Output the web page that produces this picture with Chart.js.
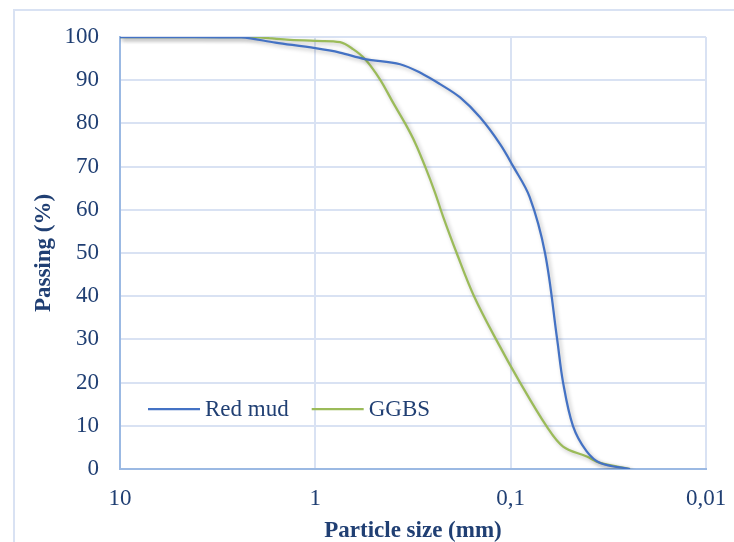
<!DOCTYPE html>
<html>
<head>
<meta charset="utf-8">
<script src="https://cdn.jsdelivr.net/npm/chart.js@4.4.1/dist/chart.umd.min.js"></script>
<style>
  html, body { margin: 0; padding: 0; background: #ffffff; }
  #wrap { width: 734px; height: 542px; position: relative; }
</style>
</head>
<body>
<div id="wrap"><canvas id="c" width="734" height="542"></canvas></div>
<script>
// ---- data ----
const seriesNames = ['Red mud', 'GGBS'];

const redMudSize    = [10, 5, 2.4, 1.6, 1, 0.75, 0.557, 0.368, 0.281, 0.23, 0.1815, 0.1435, 0.1133, 0.0972, 0.08, 0.0667, 0.0578, 0.0539, 0.048, 0.041, 0.0348, 0.0245];
const redMudPassing = [100, 100, 99.9, 98.7, 97.4, 96.4, 94.9, 93.7, 91.4, 89.1, 86.0, 81.4, 75.2, 70.1, 63.0, 50.0, 30.0, 20.0, 10.0, 4.2, 1.4, 0];

const ggbsSize    = [10, 5, 2.16, 1.4, 1, 0.747, 0.641, 0.557, 0.467, 0.4, 0.347, 0.309, 0.274, 0.244, 0.222, 0.189, 0.154, 0.1188, 0.0895, 0.0653, 0.0539, 0.0408, 0.0348, 0.0245];
const ggbsPassing = [100, 100, 100, 99.4, 99.1, 98.8, 97.2, 94.9, 90.2, 84.8, 80.0, 75.6, 70.0, 64.0, 58.5, 50.0, 40.0, 30.0, 20.0, 9.8, 5.2, 2.9, 1.4, 0];

const xTickValues = [10, 1, 0.1, 0.01];
const xTickLabels = ['10', '1', '0,1', '0,01'];
const yTickValues = [0, 10, 20, 30, 40, 50, 60, 70, 80, 90, 100];

const xTitle = 'Particle size (mm)';
const yTitle = 'Passing (%)';

// ---- styles ----
const TEXT = '#203f73';
const FONT = 'Liberation Serif, "Times New Roman", serif';
const COLORS = ['#4472C4', '#9BBB59'];

const toPts = (xs, ys) => xs.map((x, i) => ({ x: x, y: ys[i] }));

const outerBorder = {
  id: 'outerBorder',
  beforeDraw(chart) {
    const ctx = chart.ctx;
    ctx.save();
    ctx.strokeStyle = '#D9E2F3';
    ctx.lineWidth = 2;
    ctx.beginPath();
    ctx.moveTo(14, 542);
    ctx.lineTo(14, 10);
    ctx.lineTo(734, 10);
    ctx.stroke();
    ctx.restore();
  }
};

const lineShadow = {
  id: 'lineShadow',
  beforeDatasetDraw(chart) {
    const ctx = chart.ctx;
    ctx.save();
    ctx.shadowColor = 'rgba(0,0,0,0.28)';
    ctx.shadowBlur = 4;
    ctx.shadowOffsetX = 2;
    ctx.shadowOffsetY = 2;
  },
  afterDatasetDraw(chart) {
    chart.ctx.restore();
  }
};

const innerLegend = {
  id: 'innerLegend',
  afterDraw(chart) {
    const ctx = chart.ctx;
    ctx.save();
    ctx.font = '23px ' + FONT;
    ctx.textBaseline = 'middle';
    ctx.textAlign = 'left';
    const y = 409;
    let x = 148;
    seriesNames.forEach((name, i) => {
      ctx.strokeStyle = COLORS[i];
      ctx.lineWidth = 2.25;
      ctx.beginPath();
      ctx.moveTo(x, y);
      ctx.lineTo(x + 52, y);
      ctx.stroke();
      ctx.fillStyle = TEXT;
      ctx.fillText(name, x + 57, y + 1);
      x += 57 + ctx.measureText(name).width + 23;
    });
    ctx.restore();
  }
};

new Chart(document.getElementById('c'), {
  type: 'line',
  data: {
    datasets: [
      {
        label: seriesNames[0],
        data: toPts(redMudSize, redMudPassing),
        borderColor: COLORS[0],
        backgroundColor: COLORS[0],
        borderWidth: 2.25,
        pointRadius: 0,
        tension: 0.35,
        fill: false
      },
      {
        label: seriesNames[1],
        data: toPts(ggbsSize, ggbsPassing),
        borderColor: COLORS[1],
        backgroundColor: COLORS[1],
        borderWidth: 2.25,
        pointRadius: 0,
        tension: 0.35,
        fill: false
      }
    ]
  },
  options: {
    responsive: false,
    animation: false,
    events: [],
    layout: { padding: { top: 37, right: 28, left: 0, bottom: 0 } },
    plugins: {
      legend: { display: false },
      tooltip: { enabled: false }
    },
    scales: {
      x: {
        type: 'logarithmic',
        reverse: true,
        min: 0.01,
        max: 10,
        afterBuildTicks: s => { s.ticks = xTickValues.map(v => ({ value: v, major: false })); },
        afterFit: s => { s.height = 73; s.paddingLeft = 0; s.paddingRight = 0; },
        ticks: {
          autoSkip: false,
          maxRotation: 0,
          padding: 16,
          color: TEXT,
          font: { family: FONT, size: 23 },
          callback: (v) => { const i = xTickValues.indexOf(v); return i >= 0 ? xTickLabels[i] : ''; }
        },
        grid: { color: '#D9E2F3', lineWidth: 2, drawTicks: false },
        border: { display: true, color: '#9BB9E3', width: 2 },
        title: {
          display: true,
          text: xTitle,
          color: TEXT,
          font: { family: FONT, size: 23, weight: 'bold' },
          padding: { top: 0, bottom: -3 }
        }
      },
      y: {
        min: 0,
        max: 100,
        afterBuildTicks: s => { s.ticks = yTickValues.map(v => ({ value: v })); },
        afterFit: s => { s.width = 120; },
        ticks: {
          padding: 21,
          color: TEXT,
          font: { family: FONT, size: 23 }
        },
        grid: { color: '#D9E2F3', lineWidth: 2, drawTicks: false },
        border: { display: true, color: '#9BB9E3', width: 2 },
        title: {
          display: true,
          text: yTitle,
          color: TEXT,
          font: { family: FONT, size: 23, weight: 'bold' },
          padding: { top: 30, bottom: 0 }
        }
      }
    }
  },
  plugins: [outerBorder, lineShadow, innerLegend]
});
</script>
</body>
</html>
